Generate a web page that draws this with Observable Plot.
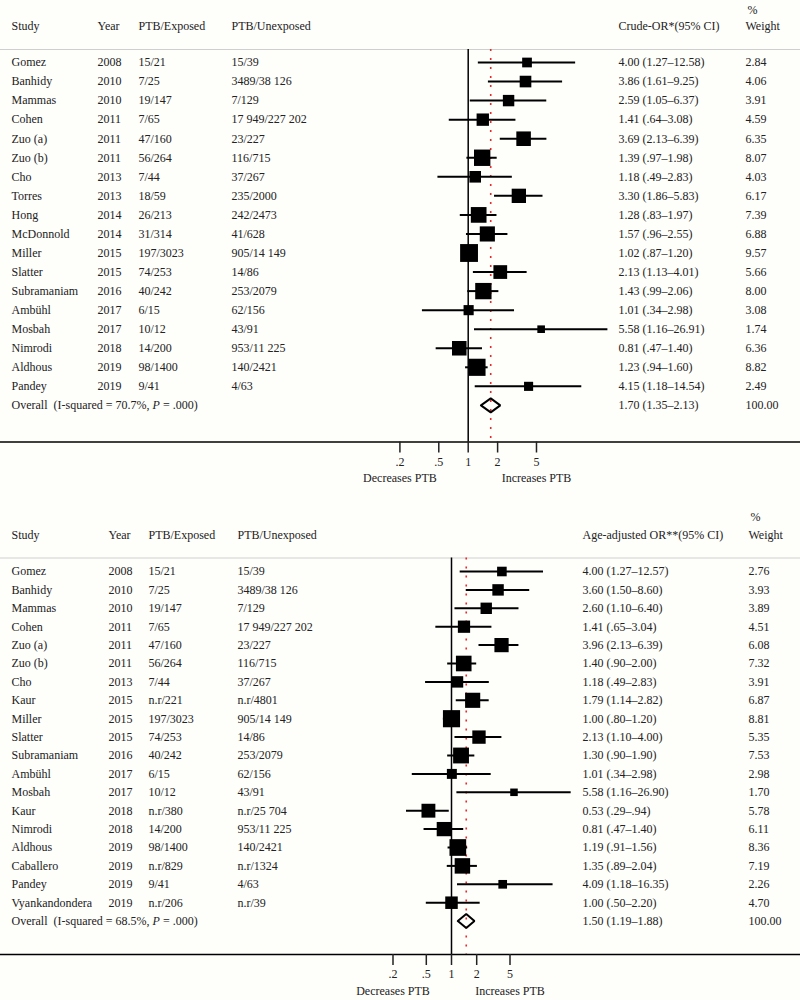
<!DOCTYPE html>
<html><head><meta charset="utf-8">
<script src="https://cdn.jsdelivr.net/npm/d3@7"></script>
<script src="https://cdn.jsdelivr.net/npm/@observablehq/plot@0.6"></script>
<style>
html,body{margin:0;padding:0;background:#fefefb;}
#c{width:800px;}
#c svg{display:block;}
</style></head><body><div id="c"></div>
<script>
// ---------- Panel 1: crude OR ----------
const studies1 = ["Gomez","Banhidy","Mammas","Cohen","Zuo (a)","Zuo (b)","Cho","Torres","Hong","McDonnold","Miller","Slatter","Subramaniam","Ambühl","Mosbah","Nimrodi","Aldhous","Pandey"];
const years1 = [2008,2010,2010,2011,2011,2011,2013,2013,2014,2014,2015,2015,2016,2017,2017,2018,2019,2019];
const exposed1 = ["15/21","7/25","19/147","7/65","47/160","56/264","7/44","18/59","26/213","31/314","197/3023","74/253","40/242","6/15","10/12","14/200","98/1400","9/41"];
const unexposed1 = ["15/39","3489/38 126","7/129","17 949/227 202","23/227","116/715","37/267","235/2000","242/2473","41/628","905/14 149","14/86","253/2079","62/156","43/91","953/11 225","140/2421","4/63"];
const or1 = [4.00,3.86,2.59,1.41,3.69,1.39,1.18,3.30,1.28,1.57,1.02,2.13,1.43,1.01,5.58,0.81,1.23,4.15];
const lo1 = [1.27,1.61,1.05,0.64,2.13,0.97,0.49,1.86,0.83,0.96,0.87,1.13,0.99,0.34,1.16,0.47,0.94,1.18];
const hi1 = [12.58,9.25,6.37,3.08,6.39,1.98,2.83,5.83,1.97,2.55,1.20,4.01,2.06,2.98,26.91,1.40,1.60,14.54];
const weight1 = [2.84,4.06,3.91,4.59,6.35,8.07,4.03,6.17,7.39,6.88,9.57,5.66,8.00,3.08,1.74,6.36,8.82,2.49];
const overall1 = {or: 1.70, lo: 1.35, hi: 2.13, w: 100.00, i2: "70.7", p: ".000"};
const orHeader1 = "Crude-OR*(95% CI)";

// ---------- Panel 2: age-adjusted OR ----------
const studies2 = ["Gomez","Banhidy","Mammas","Cohen","Zuo (a)","Zuo (b)","Cho","Kaur","Miller","Slatter","Subramaniam","Ambühl","Mosbah","Kaur","Nimrodi","Aldhous","Caballero","Pandey","Vyankandondera"];
const years2 = [2008,2010,2010,2011,2011,2011,2013,2015,2015,2015,2016,2017,2017,2018,2018,2019,2019,2019,2019];
const exposed2 = ["15/21","7/25","19/147","7/65","47/160","56/264","7/44","n.r/221","197/3023","74/253","40/242","6/15","10/12","n.r/380","14/200","98/1400","n.r/829","9/41","n.r/206"];
const unexposed2 = ["15/39","3489/38 126","7/129","17 949/227 202","23/227","116/715","37/267","n.r/4801","905/14 149","14/86","253/2079","62/156","43/91","n.r/25 704","953/11 225","140/2421","n.r/1324","4/63","n.r/39"];
const or2 = [4.00,3.60,2.60,1.41,3.96,1.40,1.18,1.79,1.00,2.13,1.30,1.01,5.58,0.53,0.81,1.19,1.35,4.09,1.00];
const lo2 = [1.27,1.50,1.10,0.65,2.13,0.90,0.49,1.14,0.80,1.10,0.90,0.34,1.16,0.29,0.47,0.91,0.89,1.18,0.50];
const hi2 = [12.57,8.60,6.40,3.04,6.39,2.00,2.83,2.82,1.20,4.00,1.90,2.98,26.90,0.94,1.40,1.56,2.04,16.35,2.20];
const weight2 = [2.76,3.93,3.89,4.51,6.08,7.32,3.91,6.87,8.81,5.35,7.53,2.98,1.70,5.78,6.11,8.36,7.19,2.26,4.70];
const overall2 = {or: 1.50, lo: 1.19, hi: 1.88, w: 100.00, i2: "68.5", p: ".000"};
const orHeader2 = "Age-adjusted OR**(95% CI)";

const tickValues = [0.2, 0.5, 1, 2, 5];
const sideLabels = ["Decreases PTB", "Increases PTB"];
const sideAt = [0.2, 5];

const fmtB = v => v < 1 ? v.toFixed(2).replace(/^0/, "") : v.toFixed(2);
const ciText = (o, l, h) => `${o.toFixed(2)} (${fmtB(l)}–${fmtB(h)})`;

function forest(d, L) {
  const rows = d.studies.map((s, i) => ({
    i, study: s, year: String(d.years[i]), exp: d.exposed[i], unexp: d.unexposed[i],
    or: d.or[i], lo: d.lo[i], hi: d.hi[i], w: d.w[i],
    ci: ciText(d.or[i], d.lo[i], d.hi[i]), wt: d.w[i].toFixed(2)
  }));
  const n = rows.length;
  const ov = d.overall;
  const ovRow = {i: n, study: `Overall\u00a0\u00a0(I-squared = ${ov.i2}%, P = ${ov.p})`, ci: ciText(ov.or, ov.lo, ov.hi), wt: ov.w.toFixed(2)};
  const H = 500;
  const rowAt = px => (px - L.y0) / L.step;
  const yTop = rowAt(0), yBot = rowAt(L.axisY);
  const hdrLine = rowAt(L.headLineY);
  const h = 7 / L.step;
  const diamond = [
    {x: ov.lo, y: n}, {x: ov.or, y: n - h}, {x: ov.hi, y: n}, {x: ov.or, y: n + h}, {x: ov.lo, y: n}
  ];
  const marks = [
    Plot.ruleY([hdrLine], {stroke: "#cfcfcf", strokeWidth: 1.2}),
    Plot.ruleX([ov.or], {y1: hdrLine, y2: yBot, stroke: "#e8282b", strokeWidth: 1.6, strokeDasharray: "2,7"}),
    Plot.ruleX([1], {y1: hdrLine, y2: yBot, stroke: "black", strokeWidth: 1.5}),
    Plot.ruleY(rows, {y: "i", x1: "lo", x2: "hi", stroke: "black", strokeWidth: 2}),
    Plot.dot(rows, {x: "or", y: "i", r: "w", symbol: "square", fill: "black", stroke: null}),
    Plot.line(diamond, {x: "x", y: "y", stroke: "black", strokeWidth: 2, strokeLinejoin: "miter"}),
    Plot.ruleY([yBot], {stroke: "black", strokeWidth: 1.5}),
    Plot.axisX({ticks: tickValues, tickSize: 11, tickPadding: 4, strokeWidth: 1.5, label: null,
      tickFormat: v => String(v).replace(/^0/, ""), fontSize: 12}),
    Plot.text(sideLabels, {x: (t, i) => sideAt[i], text: t => t, frameAnchor: "bottom", dy: L.sideDy, fontSize: 12})
  ];
  const cols = [
    {key: "study", dx: L.cStudy, head: "Study"},
    {key: "year", dx: L.cYear, head: "Year"},
    {key: "exp", dx: L.cExp, head: "PTB/Exposed"},
    {key: "unexp", dx: L.cUnexp, head: "PTB/Unexposed"},
    {key: "ci", dx: L.cCI, head: d.orHeader},
    {key: "wt", dx: L.cW, head: "Weight"}
  ];
  for (const c of cols) {
    const data = (c.key === "study" || c.key === "ci" || c.key === "wt") ? [...rows, ovRow] : rows;
    marks.push(Plot.text(data, {y: "i", text: c.key, frameAnchor: "left", dx: c.dx, textAnchor: "start", fontSize: 12}));
    marks.push(Plot.text([c.head], {y: rowAt(L.headY), text: t => t, frameAnchor: "left", dx: c.dx, textAnchor: "start", fontSize: 12}));
  }
  marks.push(Plot.text(["%"], {y: rowAt(L.pctY), text: t => t, frameAnchor: "left", dx: L.cW + 2, textAnchor: "start", fontSize: 12}));

  const svg = Plot.plot({
    width: 800, height: H,
    marginTop: 0, marginBottom: H - L.axisY, marginLeft: 0, marginRight: 0,
    style: {fontFamily: "'Liberation Serif', serif", fontSize: "12px", color: "#222", background: "transparent", overflow: "visible"},
    x: {type: "log", domain: [0.1, 10], range: [L.x1 - L.dec, L.x1 + L.dec]},
    y: {domain: [yTop, yBot], range: [0, L.axisY], axis: null},
    r: {type: "sqrt", domain: [0, 10], range: [0, 10.3]},
    marks
  });
  // italic P
  d3.select(svg).selectAll("text").filter(function() { return /P = /.test(this.textContent) && this.childElementCount === 0; })
    .each(function() {
      const t = this.textContent;
      const k = t.indexOf("P = ");
      const sel = d3.select(this);
      sel.text(null);
      sel.append("tspan").text(t.slice(0, k));
      sel.append("tspan").attr("font-style", "italic").text("P");
      sel.append("tspan").text(t.slice(k + 1));
    });
  return svg;
}

const c = document.getElementById("c");
c.append(forest(
  {studies: studies1, years: years1, exposed: exposed1, unexposed: unexposed1, or: or1, lo: lo1, hi: hi1, w: weight1, overall: overall1, orHeader: orHeader1},
  {y0: 62, step: 19.05, axisY: 441.5, headLineY: 49, headY: 26, pctY: 10, x1: 467.7, dec: 97.7, sideDy: 40,
   cStudy: 11, cYear: 97, cExp: 138, cUnexp: 231, cCI: 618, cW: 745}
));
c.append(forest(
  {studies: studies2, years: years2, exposed: exposed2, unexposed: unexposed2, or: or2, lo: lo2, hi: hi2, w: weight2, overall: overall2, orHeader: orHeader2},
  {y0: 71, step: 18.4, axisY: 454, headLineY: 57.5, headY: 35, pctY: 17, x1: 451, dec: 83.7, sideDy: 40,
   cStudy: 11, cYear: 108, cExp: 148, cUnexp: 237, cCI: 582, cW: 748}
));
</script>
</body></html>
